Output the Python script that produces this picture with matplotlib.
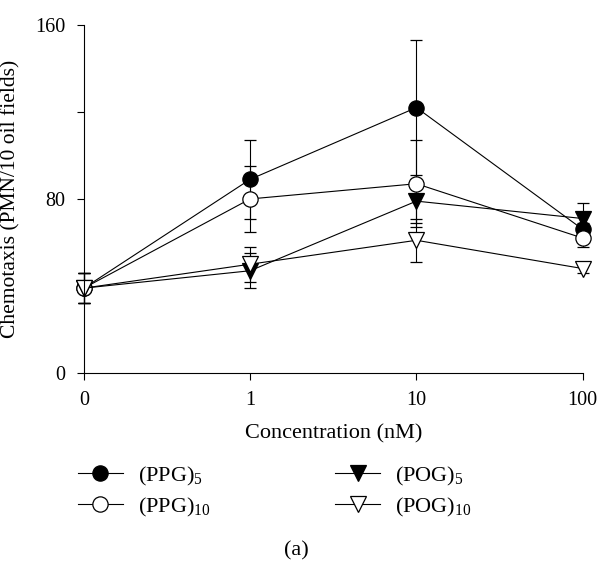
import matplotlib
matplotlib.use("Agg")
import matplotlib.pyplot as plt
from matplotlib.ticker import MultipleLocator

plt.rcParams["font.family"] = ["Liberation Serif", "DejaVu Serif"]
plt.rcParams["mathtext.fontset"] = "custom"
plt.rcParams["mathtext.rm"] = "Liberation Serif"
plt.rcParams["mathtext.it"] = "Liberation Serif:italic"

# data
concentrations = ["0", "1", "10", "100"]
ppg5 = [39, 89, 122, 66]
ppg5_err = [7, 18, 31, 3]
ppg10 = [39, 80, 87, 62]
ppg10_err = [7, 15, 20, 4]
pog5 = [39, 47, 79, 71]
pog5_err = [7, 8, 10, 7]
pog10 = [39, 50, 61, 48]
pog10_err = [7, 8, 10, 2]

series = [
    (ppg5, ppg5_err, "o", "black", "(PPG)$_5$"),
    (ppg10, ppg10_err, "o", "white", "(PPG)$_{10}$"),
    (pog5, pog5_err, "v", "black", "(POG)$_5$"),
    (pog10, pog10_err, "v", "white", "(POG)$_{10}$"),
]

fig = plt.figure(figsize=(6.16, 5.66), dpi=100)
ax = fig.add_axes([0.136, 0.341, 0.810, 0.615])

x = range(len(concentrations))
for vals, errs, marker, face, label in series:
    lines = ax.errorbar(x, vals, yerr=errs, marker=marker, markersize=11,
                        markerfacecolor=face, markeredgecolor="black",
                        markeredgewidth=0.9, color="black", linewidth=0.8,
                        elinewidth=0.8, capsize=4, capthick=0.8, label=label)
    for artist in lines.get_children():
        artist.set_clip_on(False)

ax.set_xlim(0, 3)
ax.set_ylim(0, 160)
ax.set_xticks(list(x))
ax.set_xticklabels(concentrations)
ax.yaxis.set_major_locator(MultipleLocator(80))
ax.yaxis.set_minor_locator(MultipleLocator(40))
for side in ("top", "right"):
    ax.spines[side].set_visible(False)
for side in ("left", "bottom"):
    ax.spines[side].set_linewidth(0.8)
ax.tick_params(labelsize=14.5, width=0.8, length=5, pad=8)
ax.tick_params(which="minor", width=0.8, length=5)

ax.set_xlabel("Concentration (nM)", fontsize=16, labelpad=10)
ax.set_ylabel("Chemotaxis (PMN/10 oil fields)", fontsize=15.5)
ax.yaxis.set_label_coords(-0.126, 0.5)

handles, labels = ax.get_legend_handles_labels()
handles = [h[0] for h in handles]
fig.legend(handles, labels, loc="upper left", bbox_to_anchor=(0.127, 0.179),
           ncol=2, frameon=False, fontsize=16, handlelength=2.0,
           columnspacing=5.6, labelspacing=0.35, handletextpad=0.7,
           borderpad=0, borderaxespad=0)

fig.text(0.481, 0.027, "(a)", ha="center", va="center", fontsize=16)

fig.savefig("out.png", dpi=100)
